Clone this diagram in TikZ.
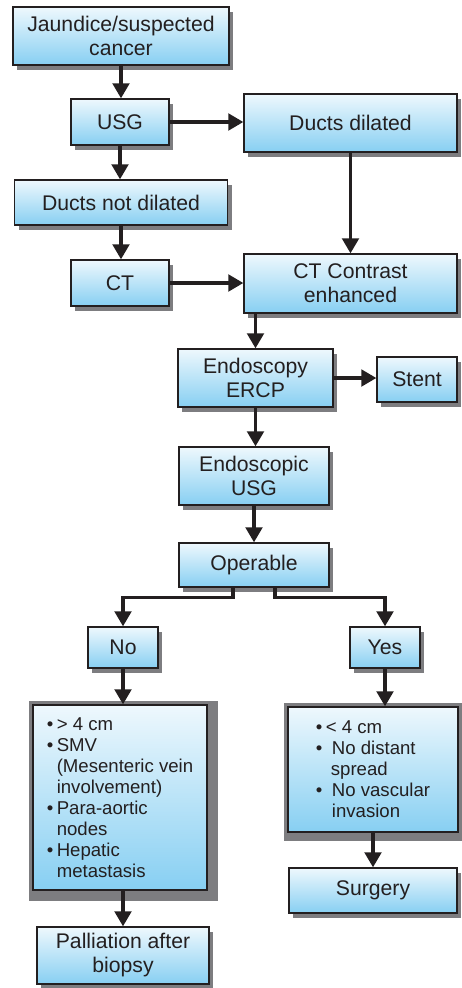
\documentclass[tikz,border=0pt]{standalone}
\usepackage{fontspec}
\setmainfont{Liberation Sans}
\usetikzlibrary{arrows.meta,shadows,backgrounds}
\definecolor{boxtop}{RGB}{238,248,253}
\definecolor{boxbot}{RGB}{135,207,242}
\definecolor{shgray}{RGB}{125,125,128}
\definecolor{ink}{RGB}{35,31,32}
\newcommand\mybul[1]{\makebox[#1][l]{•}}
\newcommand\myhang[1]{\hspace*{#1}}
\tikzset{
 box/.style={draw=ink, line width=1.3pt, top color=boxtop, bottom color=boxbot,
   inner sep=0pt, align=center, font=\fontsize{21.2}{24}\selectfont, text=ink,
   drop shadow={shadow xshift=4pt, shadow yshift=-4.5pt, fill=shgray, opacity=1}},
 bigbox/.style={draw=ink, line width=1.3pt, top color=boxtop, bottom color=boxbot,
   inner sep=0pt, align=left, font=\fontsize{18.6}{21}\selectfont, text=ink},
 arr/.style={draw=ink, line width=3.4pt, -{Triangle[width=16.5pt,length=15pt]}},
}
\begin{document}
\begin{tikzpicture}[x=1pt,y=-1pt]
\path[use as bounding box] (0,0) rectangle (462,988);
% main column
\node[box, minimum width=216pt, minimum height=58pt] (jaund) at (121,36) {Jaundice/suspected\\cancer};
\node[box, minimum width=98pt, minimum height=46pt] (usg) at (120,122) {USG};
\node[box, minimum width=213pt, minimum height=45pt] (dnd) at (121,202.5) {Ducts not dilated};
\node[box, minimum width=98pt, minimum height=46pt] (ct) at (120,283) {CT};
\node[box, minimum width=213pt, minimum height=58pt] (dd) at (350.5,123) {Ducts dilated};
\node[box, minimum width=213pt, minimum height=59pt] (cte) at (350.5,283.5) {CT Contrast\\enhanced};
\node[box, minimum width=155pt, minimum height=58pt] (ercp) at (255.5,378) {Endoscopy\\ERCP};
\node[box, minimum width=80pt, minimum height=45pt] (stent) at (417,379.5) {Stent};
\node[box, minimum width=150pt, minimum height=58pt] (eusg) at (254,476) {Endoscopic\\USG};
\node[box, minimum width=150pt, minimum height=44pt] (oper) at (254,565) {Operable};
\node[box, minimum width=70pt, minimum height=41pt] (no) at (123,647.5) {No};
\node[box, minimum width=70pt, minimum height=41pt] (yes) at (385,647.5) {Yes};
\node[bigbox, minimum width=174pt, minimum height=185pt] (lbig) at (120,797.5)
 {\mybul{10pt}> 4 cm\\\mybul{10pt}SMV\\\myhang{10pt}(Mesenteric vein\\\myhang{10pt}involvement)\\\mybul{10pt}Para-aortic\\\myhang{10pt}nodes\\\mybul{10pt}Hepatic\\\myhang{10pt}metastasis};
\node[bigbox, minimum width=170pt, minimum height=125pt] (rbig) at (373,769.5)
 {\mybul{10pt}< 4 cm\\\mybul{16pt}No distant\\\myhang{15pt}spread\\\mybul{16pt}No vascular\\\myhang{16pt}invasion};
\node[box, minimum width=172pt, minimum height=57pt] (palli) at (123,955.5) {Palliation after\\biopsy};
\node[box, minimum width=168pt, minimum height=45pt] (surg) at (373,890.5) {Surgery};
\begin{pgfonlayer}{background}
\fill[white] (0,0) rectangle (462,988);
\fill[shgray] ([xshift=-3pt,yshift=3pt]lbig.north west) rectangle ([xshift=10pt,yshift=-10pt]lbig.south east);
\fill[shgray] ([xshift=-3pt,yshift=3pt]rbig.north west) rectangle ([xshift=4pt,yshift=-8pt]rbig.south east);
\end{pgfonlayer}
% connectors
\draw[arr] (jaund.south) -- (jaund.south |- usg.north);
\draw[arr] (usg.south) -- (usg.south |- dnd.north);
\draw[arr] (usg.east) -- (usg.east -| dd.west);
\draw[arr] (dnd.south) -- (dnd.south |- ct.north);
\draw[arr] (ct.east) -- (ct.east -| cte.west);
\draw[arr] (dd.south) -- (dd.south |- cte.north);
\draw[arr] (cte.south -| ercp.north) -- (ercp.north);
\draw[arr] (ercp.east) -- (ercp.east -| stent.west);
\draw[arr] (ercp.south) -- (ercp.south |- eusg.north);
\draw[arr] (eusg.south) -- (eusg.south |- oper.north);
\coordinate (ol) at ([xshift=-21pt]oper.south);
\coordinate (or) at ([xshift=21pt]oper.south);
\draw[arr] (ol) -- ++(0,10) -| (no.north);
\draw[arr] (or) -- ++(0,10) -| (yes.north);
\draw[arr] (no.south) -- (no.south |- lbig.north);
\draw[arr] (palli.north |- lbig.south) -- (palli.north);
\draw[arr] (yes.south) -- (yes.south |- rbig.north);
\draw[arr] (surg.north |- rbig.south) -- (surg.north);
\end{tikzpicture}
\end{document}
